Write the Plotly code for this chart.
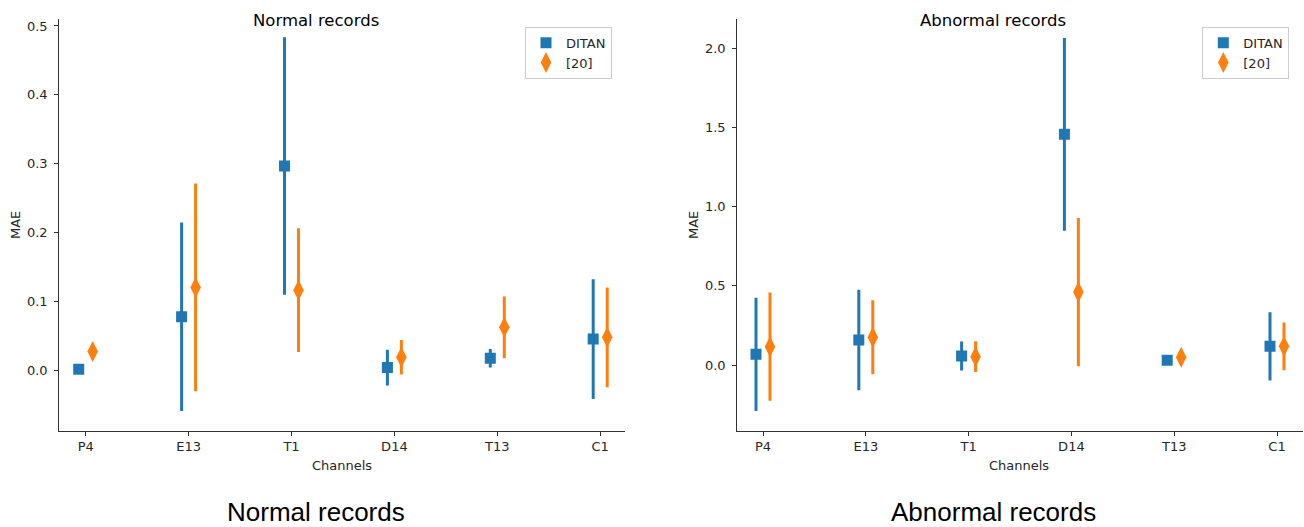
import plotly.graph_objects as go

channels = ["P4", "E13", "T1", "D14", "T13", "C1"]
series_names = ["DITAN", "[20]"]

# Normal records
normal_ditan_mean = [0.001, 0.0775, 0.2965, 0.0035, 0.017, 0.045]
normal_ditan_err = [0.0, 0.137, 0.187, 0.026, 0.0135, 0.087]
normal_ref_mean = [0.027, 0.120, 0.116, 0.0185, 0.062, 0.0475]
normal_ref_err = [0.002, 0.151, 0.090, 0.025, 0.045, 0.0725]

# Abnormal records
abn_ditan_mean = [0.068, 0.158, 0.057, 1.458, 0.030, 0.118]
abn_ditan_err = [0.358, 0.317, 0.092, 0.609, 0.005, 0.216]
abn_ref_mean = [0.116, 0.175, 0.053, 0.461, 0.049, 0.118]
abn_ref_err = [0.342, 0.234, 0.097, 0.468, 0.010, 0.151]

normal_yticks = [0.0, 0.1, 0.2, 0.3, 0.4, 0.5]
abn_yticks = [0.0, 0.5, 1.0, 1.5, 2.0]

BLUE = "#1f77b4"
ORANGE = "#ff7f0e"
TXT = "#262626"
FONT = "DejaVu Sans"
W, H = 1304, 527
DODGE = 0.068

def px_x(p):
    return p / W

def px_y(p):
    return 1 - p / H

fig = go.Figure()

xs = list(range(len(channels)))
panels = [
    ("x", "y", "legend", normal_ditan_mean, normal_ditan_err, normal_ref_mean, normal_ref_err),
    ("x2", "y2", "legend2", abn_ditan_mean, abn_ditan_err, abn_ref_mean, abn_ref_err),
]
for xa, ya, lg, dm, de, rm, re in panels:
    fig.add_trace(go.Scatter(
        x=[i - DODGE for i in xs], y=dm, mode="markers", name=series_names[0],
        xaxis=xa, yaxis=ya, legend=lg,
        marker=dict(symbol="square", size=11, color=BLUE, line=dict(width=0)),
        error_y=dict(type="data", array=de, visible=True, color=BLUE, thickness=3, width=0),
    ))
    fig.add_trace(go.Scatter(
        x=[i + DODGE for i in xs], y=rm, mode="markers", name=series_names[1],
        xaxis=xa, yaxis=ya, legend=lg,
        marker=dict(symbol="diamond-tall", size=15, color=ORANGE, line=dict(width=0)),
        error_y=dict(type="data", array=re, visible=True, color=ORANGE, thickness=3, width=0),
    ))

axis_common = dict(
    showline=True, linecolor="#333333", linewidth=1.2, ticks="outside", ticklen=4,
    tickcolor="#333333", tickwidth=1, showgrid=False, zeroline=False,
    tickfont=dict(family=FONT, size=13, color=TXT),
)
ydom = [px_y(430.7), px_y(19.3)]
fig.update_layout(
    width=W, height=H, margin=dict(l=0, r=0, t=0, b=0),
    paper_bgcolor="white", plot_bgcolor="white",
    xaxis=dict(domain=[px_x(59.3), px_x(625)], range=[-0.2566, 5.241],
               tickvals=xs, ticktext=channels, **axis_common),
    xaxis2=dict(domain=[px_x(737.3), px_x(1302.7)], range=[-0.25, 5.25],
                tickvals=xs, ticktext=channels, **axis_common),
    yaxis=dict(domain=ydom, range=[-0.0882, 0.5097], tickvals=normal_yticks,
               ticktext=[f"{v:.1f}" for v in normal_yticks], anchor="x",
               ticklabelstandoff=4, **axis_common),
    yaxis2=dict(domain=ydom, range=[-0.415, 2.185], tickvals=abn_yticks,
                ticktext=[f"{v:.1f}" for v in abn_yticks], anchor="x2",
                ticklabelstandoff=4, **axis_common),
    legend=dict(x=px_x(525), y=px_y(26.7), xanchor="left", yanchor="top",
                bgcolor="white", bordercolor="#cccccc", borderwidth=1,
                font=dict(family=FONT, size=13, color=TXT), itemwidth=30,
                tracegroupgap=0),
    legend2=dict(x=px_x(1202.3), y=px_y(26.7), xanchor="left", yanchor="top",
                 bgcolor="white", bordercolor="#cccccc", borderwidth=1,
                 font=dict(family=FONT, size=13, color=TXT), itemwidth=30,
                 tracegroupgap=0),
    showlegend=True,
)

annots = [
    ("Normal records", 315.5, 21, 16.5, FONT, 0),
    ("Abnormal records", 993, 21, 16.5, FONT, 0),
    ("Channels", 341.6, 465, 13, FONT, 0),
    ("Channels", 1019.5, 465, 13, FONT, 0),
    ("MAE", 15, 225, 13, FONT, -90),
    ("MAE", 693, 225, 13, FONT, -90),
    ("Normal records", 316, 512, 26, "Liberation Sans", 0),
    ("Abnormal records", 993, 512, 26, "Liberation Sans", 0),
]
for text, x, y, size, fam, ang in annots:
    fig.add_annotation(
        text=text, x=px_x(x), y=px_y(y), xref="paper", yref="paper",
        xanchor="center", yanchor="middle", showarrow=False, textangle=ang,
        font=dict(family=fam, size=size, color="#000000" if size >= 16 else TXT),
    )

fig.write_html("out.html")
